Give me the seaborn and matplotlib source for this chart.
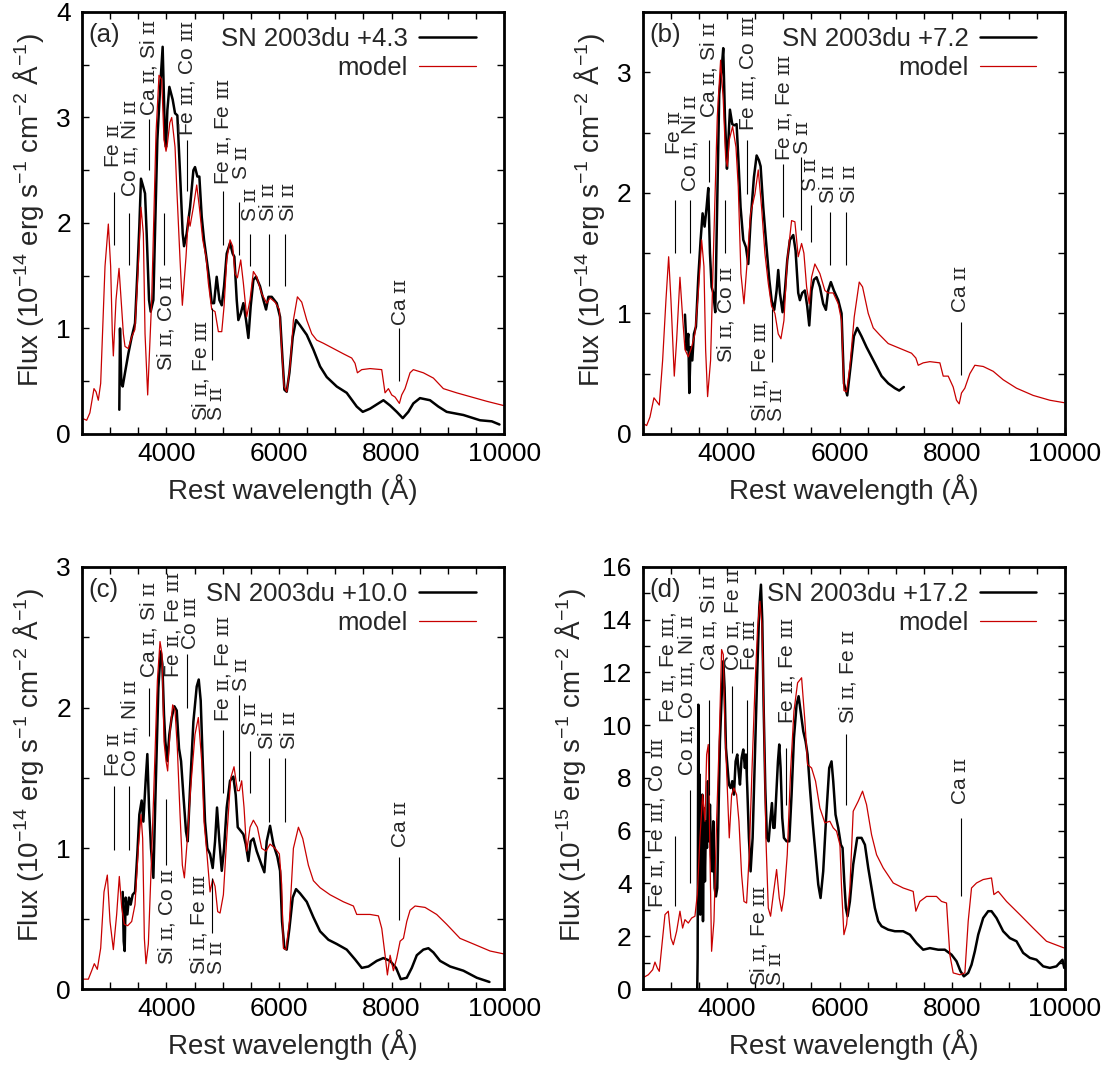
import re
import matplotlib
matplotlib.use("Agg")
import matplotlib.pyplot as plt
from matplotlib.ticker import MultipleLocator
import seaborn as sns

# ---------------- data ----------------
phases = ["+4.3", "+7.2", "+10.0", "+17.2"]
tags = ["(a)", "(b)", "(c)", "(d)"]
ymax = [4, 3.5, 3, 16]
ymajor = [1, 1, 1, 2]
yexp = [-14, -14, -14, -15]

# panel (a)
obs_wave_a = [3163, 3175, 3199, 3223, 3264, 3323, 3383, 3442, 3483, 3519, 3548, 3590, 3620, 3649, 3691, 3720,
              3768, 3797, 3839, 3886, 3933, 3975, 3993, 4017, 4052, 4111, 4153, 4194, 4242, 4289, 4313, 4360,
              4420, 4479, 4508, 4550, 4585, 4627, 4668, 4716, 4763, 4805, 4846, 4893, 4941, 4983, 5024, 5071,
              5130, 5177, 5207, 5249, 5278, 5320, 5367, 5415, 5456, 5497, 5545, 5592, 5663, 5723, 5770, 5812,
              5871, 5960, 6019, 6060, 6096, 6137, 6185, 6244, 6303, 6374, 6493, 6611, 6730, 6848, 7026, 7203,
              7381, 7488, 7618, 7766, 7855, 7974, 8092, 8199, 8298, 8387, 8505, 8683, 8831, 8979, 9276, 9572,
              9780, 9917]
obs_flux_a = [0.23, 1.00, 0.48, 0.45, 0.58, 0.76, 0.92, 1.05, 1.52, 1.97, 2.42, 2.34, 2.28, 1.90, 1.27, 1.16,
              1.27, 1.90, 2.79, 3.26, 3.67, 2.79, 2.72, 3.07, 3.29, 3.17, 3.04, 3.02, 2.47, 1.90, 1.78, 1.90,
              2.15, 2.50, 2.53, 2.44, 2.44, 2.06, 1.84, 1.65, 1.46, 1.24, 1.24, 1.49, 1.27, 1.22, 1.40, 1.71,
              1.81, 1.71, 1.68, 1.27, 1.08, 1.14, 1.24, 1.08, 0.91, 1.21, 1.46, 1.49, 1.40, 1.27, 1.18, 1.30,
              1.30, 1.24, 1.11, 0.73, 0.42, 0.40, 0.58, 0.92, 1.08, 1.03, 0.94, 0.80, 0.64, 0.54, 0.45, 0.39,
              0.26, 0.21, 0.24, 0.29, 0.32, 0.27, 0.21, 0.15, 0.21, 0.29, 0.34, 0.32, 0.26, 0.21, 0.18, 0.13,
              0.12, 0.09]
mod_wave_a = [2500, 2583, 2640, 2713, 2750, 2790, 2832, 2909, 2968, 3009, 3039, 3057, 3104, 3158, 3235, 3264,
              3323, 3383, 3440, 3500, 3548, 3590, 3620, 3667, 3738, 3815, 3868, 3916, 3957, 3993, 4017, 4060,
              4094, 4153, 4183, 4242, 4283, 4348, 4390, 4420, 4479, 4538, 4585, 4645, 4704, 4745, 4805, 4864,
              4923, 4983, 5024, 5071, 5130, 5177, 5219, 5261, 5320, 5367, 5426, 5485, 5545, 5604, 5693, 5782,
              5841, 5930, 6007, 6048, 6090, 6137, 6197, 6256, 6327, 6404, 6493, 6582, 6670, 6789, 6967, 7144,
              7292, 7351, 7393, 7470, 7618, 7825, 7884, 7944, 8003, 8062, 8139, 8180, 8239, 8328, 8387, 8565,
              8743, 8920, 9157, 9424, 9691, 9988]
mod_flux_a = [0.15, 0.13, 0.20, 0.43, 0.40, 0.32, 0.48, 1.59, 1.99, 1.59, 0.95, 0.74, 1.27, 1.57, 0.95, 0.83,
              0.81, 0.92, 0.99, 1.59, 2.15, 1.90, 0.95, 0.37, 1.27, 2.85, 3.40, 3.36, 2.79, 2.68, 2.75, 2.95,
              3.00, 2.72, 2.34, 1.65, 1.22, 1.68, 2.06, 1.97, 2.15, 2.36, 2.15, 1.84, 1.68, 1.43, 1.18, 1.16,
              0.97, 0.97, 1.21, 1.65, 1.84, 1.78, 1.52, 1.48, 1.65, 1.43, 1.11, 1.27, 1.54, 1.49, 1.33, 1.24,
              1.29, 1.25, 1.18, 0.80, 0.45, 0.40, 0.64, 1.08, 1.30, 1.25, 1.08, 0.95, 0.89, 0.86, 0.81, 0.76,
              0.72, 0.67, 0.58, 0.61, 0.62, 0.61, 0.39, 0.43, 0.37, 0.35, 0.29, 0.37, 0.43, 0.58, 0.61, 0.58,
              0.53, 0.43, 0.39, 0.35, 0.31, 0.27]

# panel (b)
obs_wave_b = [3252, 3281, 3311, 3329, 3352, 3382, 3411, 3447, 3489, 3530, 3565, 3601, 3636, 3666, 3696, 3725,
              3755, 3790, 3826, 3861, 3903, 3932, 3962, 3998, 4021, 4051, 4092, 4128, 4169, 4199, 4240, 4288,
              4335, 4377, 4418, 4477, 4525, 4566, 4596, 4643, 4690, 4750, 4791, 4838, 4880, 4909, 4939, 4986,
              5028, 5069, 5116, 5176, 5217, 5264, 5294, 5335, 5382, 5424, 5460, 5501, 5542, 5590, 5649, 5708,
              5756, 5797, 5844, 5898, 5975, 6034, 6076, 6135, 6194, 6253, 6312, 6389, 6478, 6567, 6656, 6745,
              6863, 6981, 7058, 7141]
obs_flux_b = [0.99, 0.70, 0.83, 0.34, 0.72, 0.61, 0.83, 0.89, 1.30, 1.61, 1.83, 1.72, 1.88, 2.04, 1.50, 1.22,
              1.17, 1.01, 1.94, 2.82, 3.02, 3.20, 2.63, 2.20, 2.41, 2.69, 2.57, 2.56, 2.57, 2.30, 1.88, 1.61,
              1.55, 1.41, 1.77, 2.13, 2.31, 2.27, 2.22, 1.88, 1.61, 1.28, 1.11, 1.03, 1.19, 1.36, 1.17, 1.01,
              1.19, 1.44, 1.61, 1.65, 1.52, 1.17, 1.11, 1.17, 1.19, 1.06, 0.90, 1.19, 1.28, 1.30, 1.22, 1.08,
              1.03, 1.19, 1.26, 1.19, 1.11, 1.00, 0.42, 0.32, 0.56, 0.81, 0.88, 0.81, 0.72, 0.64, 0.56, 0.48,
              0.42, 0.38, 0.36, 0.39]
mod_wave_b = [2500, 2571, 2630, 2701, 2749, 2796, 2855, 2914, 2962, 3003, 3062, 3104, 3163, 3210, 3252, 3311,
              3370, 3429, 3489, 3548, 3589, 3619, 3654, 3707, 3767, 3826, 3885, 3932, 3974, 4004, 4039, 4098,
              4158, 4199, 4246, 4300, 4359, 4418, 4495, 4554, 4613, 4672, 4732, 4791, 4850, 4909, 4957, 5010,
              5069, 5146, 5205, 5264, 5324, 5365, 5413, 5460, 5501, 5560, 5649, 5738, 5797, 5886, 5975, 6034,
              6076, 6123, 6182, 6259, 6348, 6407, 6508, 6597, 6715, 6863, 7070, 7277, 7354, 7396, 7485, 7603,
              7781, 7840, 7929, 8017, 8076, 8124, 8165, 8224, 8313, 8402, 8550, 8728, 8905, 9142, 9438, 9734,
              9983]
mod_flux_b = [0.09, 0.07, 0.14, 0.30, 0.27, 0.24, 0.61, 1.11, 1.47, 1.11, 0.48, 0.78, 1.30, 0.97, 0.70, 0.64,
              0.72, 0.83, 1.17, 1.61, 1.39, 0.70, 0.31, 0.61, 1.66, 2.63, 3.10, 2.77, 2.30, 2.22, 2.44, 2.55,
              2.38, 2.05, 1.33, 1.08, 1.44, 1.83, 1.99, 2.19, 1.88, 1.50, 1.25, 1.06, 1.00, 0.83, 0.79, 0.94,
              1.44, 1.77, 1.76, 1.47, 1.58, 1.50, 1.22, 1.08, 1.30, 1.41, 1.33, 1.19, 1.17, 1.17, 1.08, 0.94,
              0.36, 0.35, 0.56, 0.97, 1.26, 1.22, 1.00, 0.88, 0.82, 0.75, 0.71, 0.67, 0.63, 0.57, 0.59, 0.60,
              0.59, 0.48, 0.48, 0.39, 0.28, 0.25, 0.34, 0.38, 0.50, 0.57, 0.56, 0.52, 0.45, 0.38, 0.32, 0.28,
              0.26]

# panel (c)
obs_wave_c = [3223, 3241, 3258, 3276, 3306, 3335, 3365, 3400, 3442, 3483, 3519, 3560, 3590, 3631, 3661, 3691,
              3726, 3768, 3809, 3857, 3898, 3928, 3957, 3981, 4017, 4052, 4094, 4141, 4183, 4224, 4260, 4301,
              4348, 4378, 4420, 4479, 4538, 4574, 4609, 4645, 4686, 4727, 4775, 4822, 4864, 4899, 4941, 4983,
              5024, 5071, 5130, 5189, 5231, 5267, 5308, 5367, 5409, 5456, 5497, 5545, 5604, 5693, 5740, 5782,
              5841, 5900, 5971, 6019, 6054, 6096, 6137, 6185, 6244, 6303, 6374, 6493, 6611, 6730, 6878, 7026,
              7203, 7352, 7470, 7589, 7737, 7855, 7974, 8080, 8163, 8270, 8359, 8448, 8565, 8654, 8743, 8862,
              9040, 9277, 9514, 9739]
obs_flux_c = [0.69, 0.34, 0.27, 0.65, 0.53, 0.65, 0.60, 0.67, 0.69, 0.96, 1.24, 1.34, 1.19, 1.48, 1.67, 1.29,
              1.00, 0.79, 1.43, 2.14, 2.40, 2.31, 1.95, 1.76, 1.62, 1.81, 1.93, 2.01, 1.98, 1.71, 1.62, 1.38,
              1.12, 1.05, 1.43, 1.90, 2.15, 2.20, 2.05, 1.62, 1.19, 1.00, 0.96, 0.86, 1.05, 1.29, 1.05, 0.84,
              1.00, 1.29, 1.48, 1.51, 1.38, 1.15, 1.13, 1.10, 1.03, 0.91, 1.05, 1.07, 0.98, 0.88, 0.83, 1.05,
              1.16, 1.03, 0.94, 0.84, 0.48, 0.29, 0.28, 0.43, 0.65, 0.71, 0.68, 0.62, 0.51, 0.41, 0.35, 0.32,
              0.28, 0.21, 0.15, 0.16, 0.20, 0.22, 0.20, 0.15, 0.07, 0.08, 0.15, 0.24, 0.28, 0.29, 0.26, 0.20,
              0.16, 0.13, 0.08, 0.05]
mod_wave_c = [2500, 2613, 2672, 2719, 2772, 2832, 2891, 2950, 2998, 3057, 3116, 3163, 3205, 3252, 3312, 3383,
              3442, 3501, 3549, 3578, 3608, 3637, 3679, 3738, 3797, 3839, 3886, 3922, 3957, 3993, 4022, 4064,
              4111, 4153, 4194, 4242, 4283, 4319, 4372, 4431, 4508, 4567, 4627, 4668, 4716, 4775, 4822, 4864,
              4911, 4953, 5012, 5071, 5142, 5201, 5261, 5296, 5337, 5379, 5426, 5486, 5545, 5616, 5693, 5770,
              5841, 5930, 6007, 6048, 6078, 6125, 6185, 6256, 6345, 6422, 6522, 6611, 6730, 6907, 7144, 7322,
              7381, 7470, 7618, 7766, 7826, 7885, 7926, 7974, 8033, 8092, 8152, 8211, 8270, 8329, 8418, 8595,
              8801, 8979, 9216, 9455, 9751, 9988]
mod_flux_c = [0.07, 0.07, 0.13, 0.18, 0.14, 0.29, 0.69, 0.81, 0.48, 0.28, 0.53, 0.80, 0.58, 0.46, 0.45, 0.48,
              0.60, 1.00, 1.24, 1.07, 0.36, 0.18, 0.32, 0.96, 1.67, 2.19, 2.47, 2.38, 1.76, 1.62, 1.55, 1.83,
              2.02, 1.98, 1.71, 1.24, 0.88, 0.79, 1.07, 1.43, 1.81, 1.93, 1.62, 1.19, 0.98, 0.69, 0.78, 0.73,
              0.55, 0.54, 0.67, 1.07, 1.50, 1.58, 1.41, 1.41, 1.48, 1.29, 0.98, 1.15, 1.20, 1.15, 1.00, 0.98,
              1.03, 1.00, 0.96, 0.74, 0.29, 0.28, 0.48, 1.00, 1.15, 1.07, 0.88, 0.77, 0.72, 0.67, 0.62, 0.59,
              0.53, 0.53, 0.53, 0.52, 0.43, 0.24, 0.10, 0.24, 0.13, 0.22, 0.34, 0.36, 0.48, 0.56, 0.59, 0.58,
              0.53, 0.46, 0.36, 0.32, 0.27, 0.25]

# panel (d)
obs_wave_d = [3470, 3477, 3489, 3500, 3512, 3524, 3536, 3548, 3560, 3572, 3589, 3607, 3625, 3643, 3660, 3678,
              3696, 3714, 3737, 3755, 3779, 3802, 3826, 3850, 3873, 3903, 3933, 3956, 3980, 4004, 4033, 4063,
              4092, 4122, 4152, 4181, 4205, 4229, 4258, 4288, 4317, 4335, 4359, 4388, 4418, 4454, 4495, 4537,
              4572, 4602, 4626, 4649, 4679, 4708, 4738, 4767, 4797, 4821, 4844, 4874, 4904, 4927, 4951, 4980,
              5010, 5057, 5105, 5146, 5188, 5235, 5271, 5306, 5354, 5395, 5430, 5472, 5519, 5572, 5620, 5661,
              5708, 5756, 5815, 5856, 5886, 5927, 5975, 6022, 6052, 6082, 6111, 6141, 6182, 6241, 6312, 6389,
              6449, 6508, 6567, 6626, 6685, 6745, 6863, 6981, 7129, 7248, 7366, 7484, 7603, 7751, 7869, 7988,
              8077, 8148, 8207, 8284, 8343, 8402, 8462, 8550, 8639, 8698, 8787, 8905, 9024, 9142, 9260, 9379,
              9497, 9616, 9734, 9852, 9959, 9990]
obs_flux_d = [0.00, 1.18, 10.78, 4.46, 8.13, 2.82, 6.99, 5.09, 7.37, 2.57, 6.86, 4.08, 6.36, 5.35, 7.88, 5.60,
              6.99, 5.09, 4.46, 6.36, 3.83, 3.51, 3.83, 6.86, 9.39, 11.04, 12.43, 11.42, 9.14, 8.51, 7.75, 7.62,
              7.88, 7.37, 8.63, 8.89, 8.26, 7.75, 8.76, 9.08, 8.38, 8.89, 7.62, 5.73, 4.46, 5.73, 8.89, 12.05,
              14.45, 15.33, 13.94, 10.78, 7.62, 5.73, 5.60, 6.36, 7.05, 6.11, 6.11, 7.37, 8.63, 9.27, 8.38, 6.49,
              5.73, 5.60, 5.60, 7.37, 9.52, 10.78, 11.10, 10.53, 9.77, 9.39, 8.89, 7.62, 6.36, 5.09, 3.96, 3.45,
              4.46, 6.36, 8.38, 8.63, 7.88, 6.61, 6.11, 5.47, 5.35, 4.08, 3.07, 2.76, 3.32, 4.72, 5.73, 5.73,
              5.47, 4.59, 3.83, 3.07, 2.57, 2.38, 2.25, 2.19, 2.19, 2.06, 1.74, 1.49, 1.55, 1.49, 1.49, 1.30,
              1.05, 0.67, 0.48, 0.61, 0.92, 1.43, 2.06, 2.69, 2.95, 2.95, 2.69, 2.19, 1.93, 1.81, 1.37, 1.18,
              1.11, 0.86, 0.80, 0.86, 1.11, 0.80]
mod_wave_d = [2500, 2601, 2678, 2719, 2760, 2796, 2855, 2897, 2956, 3003, 3045, 3104, 3163, 3210, 3252, 3311,
              3370, 3429, 3471, 3518, 3566, 3607, 3637, 3666, 3696, 3725, 3767, 3814, 3862, 3903, 3933, 3962,
              4004, 4039, 4081, 4122, 4169, 4211, 4258, 4300, 4347, 4394, 4442, 4495, 4542, 4584, 4619, 4655,
              4690, 4732, 4773, 4821, 4880, 4927, 4969, 5016, 5069, 5128, 5188, 5253, 5324, 5383, 5430, 5501,
              5572, 5649, 5738, 5826, 5886, 5945, 6005, 6034, 6076, 6123, 6182, 6241, 6330, 6407, 6478, 6567,
              6656, 6774, 6952, 7129, 7307, 7354, 7425, 7544, 7721, 7810, 7899, 7958, 8017, 8136, 8225, 8284,
              8343, 8432, 8550, 8698, 8740, 8817, 8965, 9202, 9438, 9675, 9983]
mod_flux_d = [0.42, 0.54, 0.73, 1.02, 0.80, 0.67, 1.93, 2.82, 2.95, 1.93, 1.68, 2.19, 2.95, 2.31, 2.63, 2.50,
              2.69, 2.76, 3.58, 5.73, 7.37, 6.36, 8.89, 9.27, 5.09, 1.43, 2.57, 6.36, 9.52, 12.87, 12.68, 9.90,
              7.62, 5.73, 7.37, 7.62, 7.37, 6.36, 4.34, 3.32, 3.26, 5.09, 8.26, 11.42, 13.69, 14.70, 13.82, 10.15,
              5.73, 3.07, 2.76, 3.58, 4.53, 3.45, 2.95, 3.58, 5.09, 8.26, 10.53, 11.61, 11.80, 10.15, 8.51, 8.38,
              7.88, 6.86, 6.30, 6.36, 6.11, 5.98, 5.47, 3.83, 2.06, 2.44, 3.83, 6.74, 7.12, 7.50, 6.99, 5.85,
              5.09, 4.59, 4.02, 3.83, 3.70, 2.95, 3.32, 3.51, 3.51, 3.32, 3.26, 1.30, 0.61, 0.54, 0.61, 2.57,
              3.83, 4.02, 4.15, 4.21, 3.58, 3.70, 3.32, 2.82, 2.31, 1.81, 1.56]

obs_wave = [obs_wave_a, obs_wave_b, obs_wave_c, obs_wave_d]
obs_flux = [obs_flux_a, obs_flux_b, obs_flux_c, obs_flux_d]
mod_wave = [mod_wave_a, mod_wave_b, mod_wave_c, mod_wave_d]
mod_flux = [mod_flux_a, mod_flux_b, mod_flux_c, mod_flux_d]

# line identifications: marker lines (wavelength, y0, y1) and labels (wavelength, y, text, anchor)
marks_a = [(3075, 1.79, 2.29), (3341, 1.60, 2.09), (3685, 2.50, 2.99), (3957, 1.60, 2.09), (4360, 2.30, 2.79),
           (4805, 0.70, 1.19), (4999, 1.79, 2.30), (5296, 1.70, 2.20), (5486, 1.59, 1.90), (5823, 1.40, 1.90),
           (6108, 1.40, 1.90), (8139, 0.50, 1.00)]
labels_a = [(3057, 2.52, "Fe II", "bottom"), (3341, 2.25, "Co II, Ni II", "bottom"),
            (3679, 3.01, "Ca II, Si II", "bottom"), (3975, 1.51, "Si II, Co II", "top"),
            (4372, 2.82, "Fe III, Co III", "bottom"), (4597, 0.12, "Si II, Fe III", "bottom"),
            (4893, 0.12, "S II", "bottom"), (5012, 2.36, "Fe II, Fe III", "bottom"),
            (5338, 2.41, "S II", "bottom"), (5498, 2.01, "S II", "bottom"), (5812, 2.01, "Si II", "bottom"),
            (6167, 2.01, "Si II", "bottom"), (8152, 1.02, "Ca II", "bottom")]
marks_b = [(3074, 1.50, 1.94), (3341, 1.50, 1.94), (3684, 2.09, 2.44), (3962, 1.50, 1.94), (4359, 1.99, 2.44),
           (4803, 0.60, 1.04), (4998, 1.80, 2.24), (5306, 1.69, 2.30), (5490, 1.59, 1.90), (5827, 1.40, 1.84),
           (6111, 1.40, 1.84), (8148, 0.49, 0.93)]
labels_b = [(3062, 2.31, "Fe II", "bottom"), (3341, 2.01, "Co II, Ni II", "bottom"),
            (3666, 2.62, "Ca II, Si II", "bottom"), (3980, 1.39, "Si II, Co II", "top"),
            (4377, 2.51, "Fe III, Co III", "bottom"), (4584, 0.10, "Si II, Fe III", "bottom"),
            (4880, 0.10, "S II", "bottom"), (5010, 2.26, "Fe II, Fe III", "bottom"),
            (5342, 2.31, "S II", "bottom"), (5490, 2.01, "S II", "bottom"), (5797, 1.91, "Si II", "bottom"),
            (6170, 1.91, "Si II", "bottom"), (8148, 1.00, "Ca II", "bottom")]
marks_c = [(3075, 0.99, 1.44), (3341, 0.99, 1.44), (3691, 1.80, 2.14), (3987, 0.88, 1.35), (4360, 2.00, 2.38),
           (4804, 0.40, 0.79), (5000, 1.39, 1.84), (5296, 1.48, 2.09), (5486, 1.39, 1.69), (5823, 1.19, 1.64),
           (6108, 1.19, 1.64), (8139, 0.49, 0.94)]
labels_c = [(3057, 1.51, "Fe II", "bottom"), (3341, 1.51, "Co II, Ni II", "bottom"),
            (3679, 2.21, "Ca II, Si II", "bottom"), (4123, 2.21, "Fe II, Fe III", "bottom"),
            (4419, 2.41, "Co III", "bottom"), (3993, 0.86, "Si II, Co II", "top"),
            (4567, 0.10, "Si II, Fe III", "bottom"), (4881, 0.10, "S II", "bottom"),
            (5012, 1.90, "Fe II, Fe III", "bottom"), (5338, 2.11, "S II", "bottom"),
            (5498, 1.80, "S II", "bottom"), (5794, 1.70, "Si II", "bottom"), (6185, 1.70, "Si II", "bottom"),
            (8152, 1.00, "Ca II", "bottom")]
marks_d = [(3074, 3.14, 5.79), (3341, 4.02, 7.56), (3684, 7.37, 10.97), (4092, 8.95, 11.48), (4359, 8.00, 10.97),
           (5040, 6.99, 9.14), (6111, 6.99, 9.65), (8148, 3.51, 6.49)]
labels_d = [(2760, 3.07, "Fe II, Fe III, Co III", "bottom"), (2956, 10.09, "Fe II, Fe III,", "bottom"),
            (3275, 8.07, "Co II, Co III, Ni II", "bottom"), (3666, 12.05, "Ca II, Si II", "bottom"),
            (4110, 12.05, "Co II, Fe II", "bottom"), (4392, 12.05, "Fe III", "bottom"),
            (4554, 0.10, "Si II, Fe III", "bottom"), (4868, 0.10, "S II", "bottom"),
            (5057, 10.03, "Fe II, Fe III", "bottom"), (6135, 10.03, "Si II, Fe II", "bottom"),
            (8148, 6.99, "Ca II", "bottom")]
marks = [marks_a, marks_b, marks_c, marks_d]
labels = [labels_a, labels_b, labels_c, labels_d]

# ---------------- style ----------------
sns.set_theme(style="ticks")
plt.rcParams["font.family"] = ["Liberation Sans", "DejaVu Sans"]
plt.rcParams["mathtext.fontset"] = "custom"
plt.rcParams["mathtext.default"] = "regular"
plt.rcParams["mathtext.rm"] = "Liberation Sans"
plt.rcParams["mathtext.cal"] = "DejaVu Serif"


def ion(s):
    # small-capital serif roman numerals, as in the original figure
    return re.sub(r"\b(I{1,3})\b", lambda m: r"$\mathcal{" + "\u026a" * len(m.group(1)) + "}$", s)


fig = plt.figure(figsize=(11.08, 10.70), dpi=100)
rects = [[0.074, 0.5944, 0.381, 0.3944], [0.580, 0.5944, 0.381, 0.3944],
         [0.074, 0.0757, 0.381, 0.3944], [0.580, 0.0757, 0.381, 0.3944]]
ylab_x = [-0.085, -0.085, -0.085, -0.13]

for i in range(4):
    ax = fig.add_axes(rects[i])
    sns.lineplot(x=obs_wave[i], y=obs_flux[i], ax=ax, color="black", lw=1.8,
                 estimator=None, sort=False, label="SN 2003du " + phases[i])
    sns.lineplot(x=mod_wave[i], y=mod_flux[i], ax=ax, color="#c80000", lw=0.9,
                 estimator=None, sort=False, label="model")

    for w, y0, y1 in marks[i]:
        ax.vlines(w, y0, y1, color="black", lw=0.8)
    for w, y, t, va in labels[i]:
        ax.text(w, y, ion(t), rotation=90, ha="center", va=va, fontsize=15)

    ax.set_xlim(2500, 10000)
    ax.set_ylim(0, ymax[i])
    ax.xaxis.set_major_locator(MultipleLocator(2000))
    ax.xaxis.set_minor_locator(MultipleLocator(500))
    ax.yaxis.set_major_locator(MultipleLocator(ymajor[i]))
    ax.yaxis.set_minor_locator(MultipleLocator(ymajor[i] / 2))
    ax.tick_params(which="both", direction="in", top=True, right=True,
                   length=5, width=1, labelsize=19, colors="black")
    ax.tick_params(axis="y", pad=8)
    ax.tick_params(axis="x", pad=6)
    for sp in ax.spines.values():
        sp.set_linewidth(2)
        sp.set_color("black")

    ax.set_xlabel("Rest wavelength (Å)", fontsize=20, labelpad=6)
    ax.set_ylabel("Flux (10$^{%d}$ erg s$^{-1}$ cm$^{-2}$ Å$^{-1}$)" % yexp[i], fontsize=20)
    ax.yaxis.set_label_coords(ylab_x[i], 0.53)

    ax.text(0.015, 0.975, tags[i], transform=ax.transAxes, ha="left", va="top", fontsize=18.5)
    ax.legend(loc="upper right", bbox_to_anchor=(0.957, 0.988), borderaxespad=0, frameon=False,
              markerfirst=False, handlelength=2.2, handletextpad=0.45, labelspacing=0.2, fontsize=18.5)

fig.savefig("out.png", dpi=100)
